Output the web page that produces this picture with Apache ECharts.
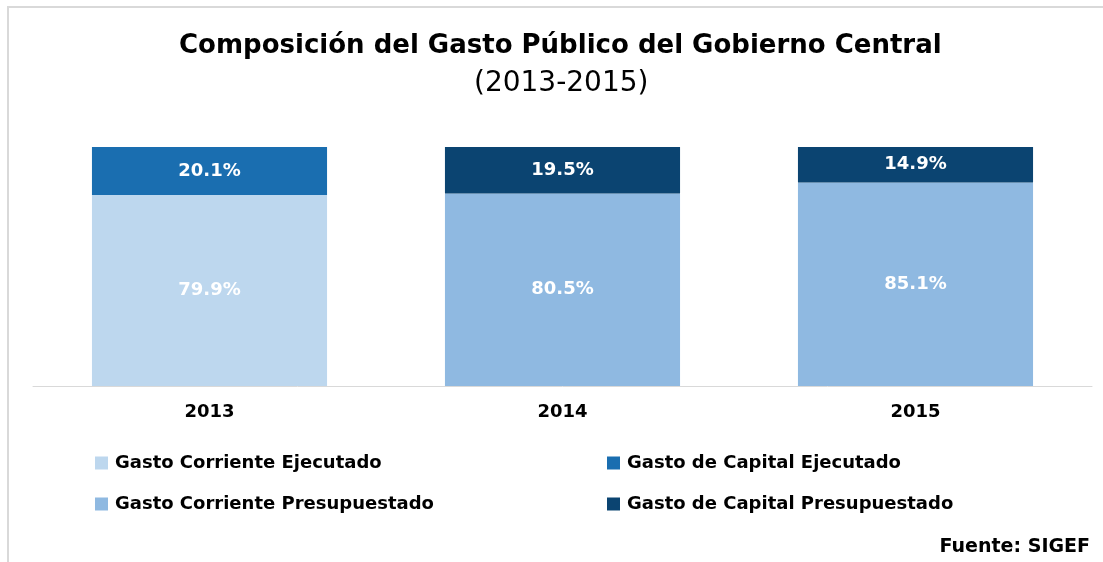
<!DOCTYPE html>
<html>
<head>
<meta charset="utf-8">
<script src="https://cdn.jsdelivr.net/npm/echarts@6/dist/echarts.min.js"></script>
<style>
  html, body { margin: 0; padding: 0; background: #fff; overflow: hidden; }
  #frame { position: absolute; left: 7px; top: 6px; width: 1096px; height: 556px; border-style: solid; border-color: #d9d9d9; border-width: 2px 0 0 2px; box-sizing: border-box; }
  #chart { position: absolute; left: 0; top: 0; width: 1103px; height: 562px; }
</style>
</head>
<body>
<div id="frame"></div>
<div id="chart"></div>
<script>
  var years = ['2013', '2014', '2015'];
  var corrienteEjecutado = [79.9, '-', '-'];
  var capitalEjecutado = [20.1, '-', '-'];
  var corrientePresupuestado = ['-', 80.5, 85.1];
  var capitalPresupuestado = ['-', 19.5, 14.9];

  var fontFam = '"DejaVu Sans", Verdana, sans-serif';

  function barSeries(name, data, color) {
    return {
      name: name,
      type: 'bar',
      stack: 'total',
      barCategoryGap: '33.4%',
      data: data,
      itemStyle: { color: color },
      label: {
        show: true,
        position: 'inside',
        color: '#fff',
        fontFamily: fontFam,
        fontWeight: 'bold',
        fontSize: 18,
        formatter: function (p) { return p.value.toFixed(1) + '%'; }
      }
    };
  }

  var legendText = { fontFamily: fontFam, fontWeight: 'bold', fontSize: 18, color: '#000', lineHeight: 20, padding: [0, 0, 0, 2] };

  var chart = echarts.init(document.getElementById('chart'));
  var option = {
    animation: false,
    title: [
      {
        text: 'Composición del Gasto Público del Gobierno Central',
        left: 174,
        top: 28,
        textStyle: { fontFamily: fontFam, fontWeight: 'bold', fontSize: 26, color: '#000' }
      },
      {
        text: '(2013-2015)',
        left: 469,
        top: 65,
        textStyle: { fontFamily: fontFam, fontWeight: 'normal', fontSize: 28, color: '#000' }
      },
      {
        text: 'Fuente: SIGEF',
        right: 8,
        top: 533,
        textStyle: { fontFamily: fontFam, fontWeight: 'bold', fontSize: 19, color: '#000' }
      }
    ],
    legend: [
      {
        data: ['Gasto Corriente Ejecutado', 'Gasto Corriente Presupuestado'],
        orient: 'vertical',
        left: 90,
        top: 448,
        itemWidth: 13,
        itemHeight: 13,
        itemGap: 21,
        icon: 'rect',
        textStyle: legendText
      },
      {
        data: ['Gasto de Capital Ejecutado', 'Gasto de Capital Presupuestado'],
        orient: 'vertical',
        left: 602,
        top: 448,
        itemWidth: 13,
        itemHeight: 13,
        itemGap: 21,
        icon: 'rect',
        textStyle: legendText
      }
    ],
    grid: { left: 33, right: 11, top: 147, bottom: 176 },
    xAxis: {
      type: 'category',
      data: years,
      axisLine: { lineStyle: { color: '#d9d9d9', width: 1 } },
      axisTick: { show: false },
      axisLabel: { fontFamily: fontFam, fontWeight: 'bold', fontSize: 18, color: '#000', margin: 17 }
    },
    yAxis: {
      type: 'value',
      min: 0,
      max: 100,
      show: false,
      splitLine: { show: false }
    },
    series: [
      barSeries('Gasto Corriente Ejecutado', corrienteEjecutado, '#bdd7ee'),
      barSeries('Gasto de Capital Ejecutado', capitalEjecutado, '#1a6eb0'),
      barSeries('Gasto Corriente Presupuestado', corrientePresupuestado, '#8fb9e1'),
      barSeries('Gasto de Capital Presupuestado', capitalPresupuestado, '#0b4471')
    ]
  };
  chart.setOption(option);
</script>
</body>
</html>
